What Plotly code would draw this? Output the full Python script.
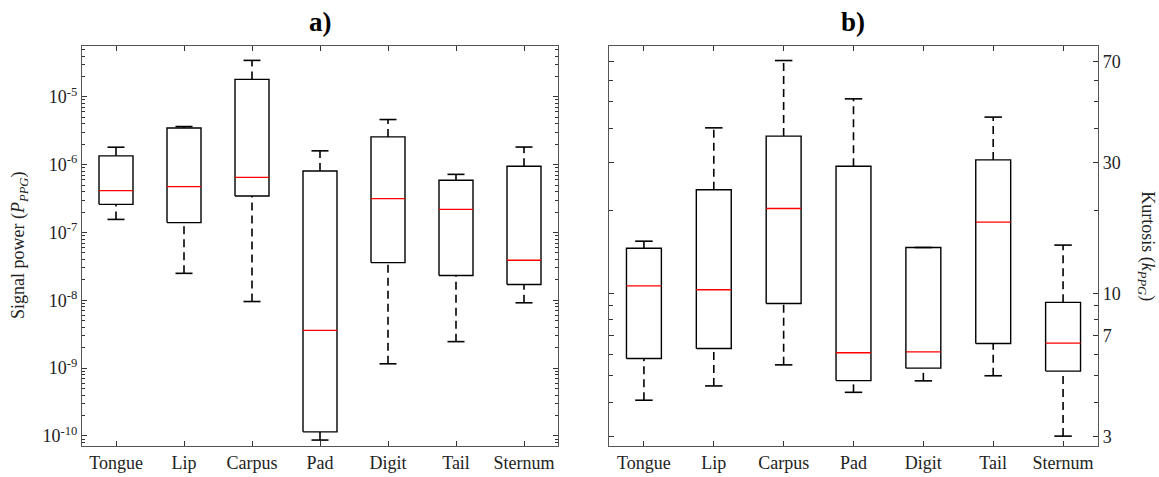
import math
import plotly.graph_objects as go

categories = ["Tongue", "Lip", "Carpus", "Pad", "Digit", "Tail", "Sternum"]

# a) Signal power (P_PPG) box statistics
power_low = [1.56e-7, 2.5e-8, 9.6e-9, 8.7e-11, 1.16e-9, 2.46e-9, 9.2e-9]
power_q1 = [2.6e-7, 1.40e-7, 3.45e-7, 1.15e-10, 3.6e-8, 2.32e-8, 1.71e-8]
power_med = [4.14e-7, 4.74e-7, 6.5e-7, 3.6e-9, 3.16e-7, 2.19e-7, 3.9e-8]
power_q3 = [1.35e-6, 3.48e-6, 1.81e-5, 8.07e-7, 2.57e-6, 5.9e-7, 9.46e-7]
power_high = [1.81e-6, 3.65e-6, 3.45e-5, 1.6e-6, 4.63e-6, 7.2e-7, 1.82e-6]

# b) Kurtosis (k_PPG) box statistics
kurt_low = [4.07, 4.59, 5.48, 4.35, 4.79, 5.0, 3.01]
kurt_q1 = [5.78, 6.29, 9.18, 4.8, 5.33, 6.56, 5.2]
kurt_med = [10.65, 10.3, 20.4, 6.07, 6.11, 18.2, 6.58]
kurt_q3 = [14.6, 23.9, 37.5, 29.1, 14.7, 30.7, 9.27]
kurt_high = [15.5, 40.2, 70.8, 51.3, 14.7, 44.0, 15.0]

power_exps = [-10, -9, -8, -7, -6, -5]
power_ticks = [10.0 ** e for e in power_exps]
power_labels = ["10<sup>%d</sup>" % e for e in power_exps]
power_minor = [k * 10.0 ** n for n in range(-11, -4) for k in range(2, 10)]
kurt_ticks = [3, 7, 10, 30, 70]
kurt_minor = [4, 5, 6, 8, 9, 20, 40, 50, 60]

FONT = "Liberation Serif"
BOX_HALF = 0.25
CAP_HALF = 0.125

fig = go.Figure()


def add_boxes(low, q1, med, q3, high, xa, ya):
    wx, wy, cx, cy, bx, by, mx, my = [], [], [], [], [], [], [], []
    for i in range(len(q1)):
        x = i + 1
        wx += [x, x, None, x, x, None]
        wy += [low[i], q1[i], None, q3[i], high[i], None]
        cx += [x - CAP_HALF, x + CAP_HALF, None, x - CAP_HALF, x + CAP_HALF, None]
        cy += [low[i], low[i], None, high[i], high[i], None]
        bx += [x - BOX_HALF, x + BOX_HALF, x + BOX_HALF, x - BOX_HALF, x - BOX_HALF, None]
        by += [q1[i], q1[i], q3[i], q3[i], q1[i], None]
        mx += [x - BOX_HALF, x + BOX_HALF, None]
        my += [med[i], med[i], None]
    common = dict(mode="lines", xaxis=xa, yaxis=ya, showlegend=False, hoverinfo="skip")
    fig.add_trace(go.Scatter(x=wx, y=wy, line=dict(color="black", width=1.6, dash="8px,5px"), **common))
    fig.add_trace(go.Scatter(x=cx, y=cy, line=dict(color="black", width=1.6), **common))
    fig.add_trace(go.Scatter(x=bx, y=by, line=dict(color="black", width=1.4), **common))
    fig.add_trace(go.Scatter(x=mx, y=my, line=dict(color="red", width=1.4), **common))


add_boxes(power_low, power_q1, power_med, power_q3, power_high, "x", "y")
add_boxes(kurt_low, kurt_q1, kurt_med, kurt_q3, kurt_high, "x2", "y2")

axis_common = dict(
    showline=True, linecolor="#555", linewidth=1.2, mirror="ticks",
    ticks="inside", tickcolor="#333", showgrid=False, zeroline=False,
    automargin=False,
    tickfont=dict(family=FONT, size=18, color="#222"),
)
xcommon = dict(axis_common, range=[0.5, 7.5], tickmode="array",
               tickvals=list(range(1, len(categories) + 1)), ticktext=categories,
               ticklen=5)

fig.update_layout(
    width=1159, height=477,
    margin=dict(l=82, r=61, t=46, b=31),
    paper_bgcolor="white", plot_bgcolor="white",
    font=dict(family=FONT, size=18, color="#222"),
    xaxis=dict(xcommon, domain=[0, 0.4685], anchor="y"),
    yaxis=dict(axis_common, type="log", anchor="x",
               range=[-10.148, -4.25], tickmode="array", tickvals=power_ticks,
               ticktext=power_labels, ticklen=5,
               minor=dict(tickmode="array", tickvals=power_minor, ticks="inside",
                          ticklen=3, tickcolor="#333")),
    xaxis2=dict(xcommon, domain=[0.5187, 1], anchor="y2"),
    yaxis2=dict(axis_common, type="log", anchor="x2", side="right",
                range=[math.log10(2.77), math.log10(80)], tickmode="array",
                tickvals=kurt_ticks, ticktext=[str(v) for v in kurt_ticks], ticklen=5,
                minor=dict(tickmode="array", tickvals=kurt_minor, ticks="inside",
                           ticklen=4, tickcolor="#333")),
    annotations=[
        dict(text="<b>a)</b>", x=0.2343, y=1.06, xref="paper", yref="paper",
             showarrow=False, font=dict(family=FONT, size=27, color="black"),
             xanchor="center", yanchor="middle"),
        dict(text="<b>b)</b>", x=0.7593, y=1.06, xref="paper", yref="paper",
             showarrow=False, font=dict(family=FONT, size=27, color="black"),
             xanchor="center", yanchor="middle"),
        dict(text="Signal power (<i>P</i><sub><i>PPG</i></sub>)", x=-0.062, y=0.5,
             xref="paper", yref="paper", showarrow=False, textangle=-90,
             font=dict(family=FONT, size=18, color="#222"),
             xanchor="center", yanchor="middle"),
        dict(text="Kurtosis (<i>k</i><sub><i>PPG</i></sub>)", x=1.048, y=0.5,
             xref="paper", yref="paper", showarrow=False, textangle=90,
             font=dict(family=FONT, size=18, color="#222"),
             xanchor="center", yanchor="middle"),
    ],
)

fig.write_html("out.html")
